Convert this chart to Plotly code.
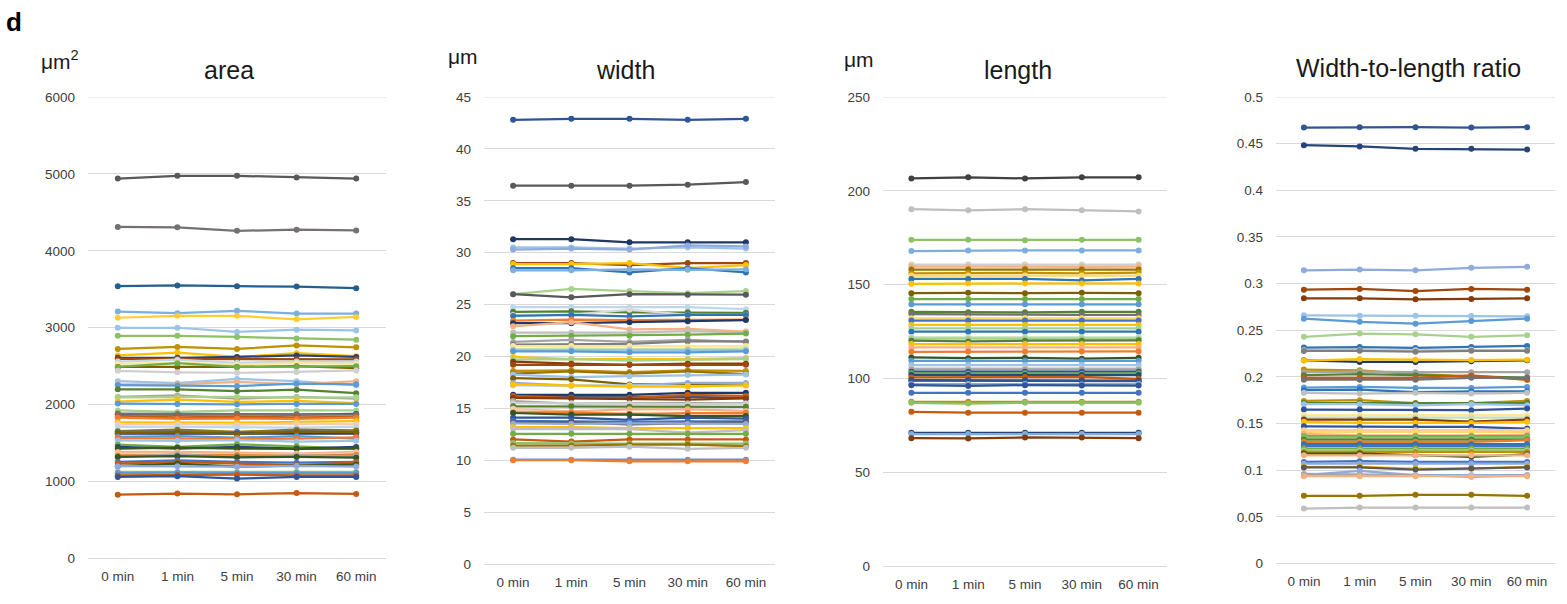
import plotly.graph_objects as go

W, H = 1567, 604
times = ["0 min", "1 min", "5 min", "30 min", "60 min"]

# ---------------- area (µm²) ----------------
area_values = [
    [4940, 4975, 4975, 4955, 4940], [4310, 4305, 4260, 4275, 4265], [3540, 3550, 3540, 3535, 3515],
    [3210, 3190, 3220, 3185, 3185], [3130, 3155, 3155, 3110, 3140], [3000, 3000, 2945, 2975, 2965],
    [2895, 2895, 2880, 2860, 2845], [2725, 2750, 2725, 2770, 2745], [2640, 2675, 2620, 2670, 2630],
    [2610, 2610, 2620, 2640, 2620], [2595, 2595, 2590, 2590, 2590], [2560, 2585, 2545, 2560, 2560],
    [2530, 2545, 2520, 2540, 2530], [2490, 2490, 2490, 2500, 2475], [2490, 2540, 2490, 2495, 2500],
    [2440, 2420, 2415, 2425, 2445], [2305, 2280, 2335, 2305, 2250], [2265, 2265, 2295, 2265, 2305],
    [2255, 2250, 2240, 2275, 2265], [2200, 2200, 2175, 2195, 2150], [2100, 2120, 2080, 2100, 2080],
    [2095, 2095, 2100, 2090, 2095], [2040, 2065, 2035, 2050, 2020], [2015, 2010, 2005, 2010, 2010],
    [1925, 1905, 1925, 1925, 1925], [1875, 1870, 1875, 1870, 1880], [1885, 1880, 1880, 1875, 1870],
    [1850, 1835, 1845, 1835, 1840], [1830, 1815, 1820, 1815, 1830], [1770, 1770, 1765, 1775, 1785],
    [1745, 1750, 1740, 1755, 1745], [1710, 1715, 1705, 1700, 1710], [1655, 1675, 1645, 1675, 1665],
    [1645, 1650, 1640, 1650, 1645], [1625, 1625, 1620, 1625, 1625], [1630, 1640, 1620, 1645, 1640],
    [1580, 1590, 1570, 1590, 1560], [1565, 1560, 1555, 1560, 1575], [1535, 1530, 1540, 1520, 1530],
    [1480, 1450, 1485, 1460, 1430], [1450, 1430, 1450, 1430, 1450], [1430, 1440, 1430, 1425, 1430],
    [1385, 1385, 1375, 1365, 1385], [1365, 1360, 1360, 1350, 1370], [1340, 1345, 1345, 1335, 1350],
    [1320, 1355, 1320, 1340, 1330], [1320, 1330, 1315, 1320, 1310], [1255, 1275, 1255, 1245, 1255],
    [1235, 1255, 1235, 1215, 1245], [1200, 1235, 1195, 1210, 1220], [1200, 1200, 1195, 1205, 1195],
    [1125, 1125, 1120, 1125, 1125], [1110, 1115, 1110, 1110, 1110], [1080, 1085, 1090, 1080, 1080],
    [1060, 1070, 1040, 1060, 1060], [830, 845, 835, 850, 840],
]
area_colors = [
    "#595959", "#767171", "#255E91", "#7CAFDD", "#FFCD33", "#9DC3E6", "#8CC168", "#BF9000",
    "#FFC000", "#264478", "#9E480E", "#BDD7EE", "#FFE699", "#7F6000", "#70AD47", "#D0CECE",
    "#9DC3E6", "#F4B183", "#5B9BD5", "#548235", "#A5A5A5", "#A9D18E", "#FFC000", "#5B9BD5",
    "#A9D18E", "#1F4E79", "#767171", "#C55A11", "#ED7D31", "#FFC000", "#F8CBAD", "#BDD7EE",
    "#997300", "#4472C4", "#1F3864", "#7F6000", "#5B9BD5", "#ED7D31", "#9DC3E6", "#70AD47",
    "#264478", "#385723", "#F4B183", "#F8CBAD", "#ED7D31", "#A5A5A5", "#375623", "#4472C4",
    "#C55A11", "#385723", "#8FAADC", "#8CC168", "#5B9BD5", "#C55A11", "#2F5597", "#C55A11",
]

# ---------------- width (µm) ----------------
width_values = [
    [42.8, 42.9, 42.9, 42.8, 42.9], [36.45, 36.45, 36.45, 36.55, 36.8], [31.3, 31.3, 31.0, 31.0, 31.0],
    [30.5, 30.5, 30.4, 30.5, 30.4], [30.3, 30.4, 30.3, 30.7, 30.6], [29.0, 29.0, 28.8, 29.0, 29.0],
    [28.9, 28.9, 29.0, 28.5, 28.8], [28.5, 28.5, 28.1, 28.5, 28.1], [28.3, 28.3, 28.4, 28.35, 28.4],
    [26.0, 26.5, 26.3, 26.1, 26.3], [26.0, 25.7, 26.0, 25.95, 25.95], [24.75, 24.75, 24.7, 24.75, 24.55],
    [24.3, 24.35, 24.25, 24.25, 24.2], [24.0, 24.0, 24.5, 24.0, 24.0], [23.9, 24.0, 23.85, 24.0, 24.0],
    [23.45, 23.55, 23.5, 23.5, 23.55], [23.2, 23.2, 23.3, 23.4, 23.5], [22.9, 23.3, 22.6, 22.65, 22.4],
    [22.3, 22.3, 22.3, 22.45, 22.3], [21.95, 22.0, 22.0, 22.1, 22.2], [21.4, 21.6, 21.4, 21.6, 21.4],
    [21.15, 21.2, 21.2, 21.45, 21.45], [21.0, 21.0, 21.0, 20.95, 21.0], [20.7, 20.75, 20.7, 20.7, 20.75],
    [20.6, 20.6, 20.6, 20.65, 20.6], [20.5, 20.5, 20.4, 20.4, 20.5], [19.95, 19.75, 19.75, 19.75, 19.85],
    [19.7, 19.75, 19.6, 19.7, 19.75], [19.5, 19.3, 19.2, 19.3, 19.3], [19.2, 19.2, 19.2, 19.2, 19.2],
    [18.6, 18.65, 18.5, 18.65, 18.6], [18.35, 18.55, 18.35, 18.55, 18.3], [18.25, 18.0, 18.1, 18.2, 18.25],
    [17.9, 17.8, 17.3, 17.3, 17.3], [17.45, 17.2, 17.2, 17.45, 17.45], [17.2, 17.15, 17.2, 17.15, 17.2],
    [17.3, 17.2, 17.1, 17.1, 17.2], [16.3, 16.3, 16.3, 16.5, 16.5], [16.1, 16.1, 16.05, 16.1, 16.0],
    [16.2, 16.0, 16.0, 16.3, 16.2], [16.0, 15.95, 15.9, 15.85, 15.95], [15.7, 15.45, 15.5, 15.5, 15.5],
    [15.5, 15.5, 15.45, 15.4, 15.45], [15.2, 15.2, 15.15, 15.15, 15.15], [14.9, 14.7, 14.9, 14.9, 14.75],
    [14.95, 14.4, 14.55, 14.4, 14.4], [14.6, 14.6, 14.45, 14.55, 14.55], [14.55, 14.4, 14.4, 14.25, 14.25],
    [14.1, 14.1, 13.9, 14.1, 14.0], [13.8, 13.75, 13.7, 13.75, 13.75], [13.65, 13.65, 13.45, 13.55, 13.65],
    [13.55, 13.5, 13.55, 13.5, 13.5], [13.2, 13.2, 13.1, 13.1, 13.1], [13.0, 13.0, 13.0, 12.65, 12.9],
    [12.55, 12.55, 12.55, 12.55, 12.55], [12.0, 11.8, 12.0, 12.0, 12.0], [11.65, 11.6, 11.6, 11.6, 11.6],
    [11.4, 11.4, 11.5, 11.5, 11.35], [11.2, 11.2, 11.3, 11.1, 11.2], [10.05, 10.05, 10.05, 10.05, 10.05],
    [10.0, 10.0, 9.9, 9.9, 9.9],
]
width_colors = [
    "#2F5597", "#595959", "#203864", "#9DC3E6", "#8FAADC", "#9E480E", "#FFC000", "#2E75B6",
    "#7CAFDD", "#A9D18E", "#595959", "#BDD7EE", "#548235", "#D9D9D9", "#2E75B6", "#ED7D31",
    "#203864", "#F4B183", "#BFBFBF", "#70AD47", "#A5A5A5", "#7F7F7F", "#FFE699", "#C5E0B4",
    "#9DC3E6", "#5B9BD5", "#FFC000", "#A9D18E", "#843C0C", "#9E480E", "#BF9000", "#997300",
    "#9DC3E6", "#7F6000", "#8FAADC", "#BDD7EE", "#FFC000", "#203864", "#2F5597", "#C55A11",
    "#843C0C", "#A5A5A5", "#D0CECE", "#548235", "#F4B183", "#F8CBAD", "#ED7D31", "#375623",
    "#2F5597", "#4472C4", "#595959", "#8FAADC", "#FFC000", "#BFBFBF", "#70AD47", "#C55A11",
    "#8CC168", "#997300", "#BFBFBF", "#698ED0", "#ED7D31",
]

# ---------------- length (µm) ----------------
length_values = [
    [206.6, 207.2, 206.6, 207.2, 207.2], [190.2, 189.6, 190.2, 189.6, 189.0], [173.9, 173.9, 173.6, 173.9, 173.9],
    [167.9, 168.2, 168.2, 168.2, 168.2], [160.7, 160.7, 160.7, 160.7, 160.7], [159.6, 159.5, 159.4, 159.5, 159.6],
    [158.0, 158.0, 158.2, 158.0, 158.0], [156.0, 156.2, 156.2, 156.0, 156.4], [154.8, 154.8, 154.8, 154.8, 154.8],
    [153.0, 153.0, 153.0, 152.2, 153.0], [150.4, 150.6, 150.6, 150.6, 150.6], [145.4, 145.6, 145.4, 145.6, 145.4],
    [142.3, 142.3, 142.3, 142.3, 142.3], [139.5, 139.5, 139.5, 139.5, 139.5], [135.5, 135.2, 135.2, 135.5, 135.5],
    [134.3, 134.0, 134.0, 133.8, 133.8], [132.0, 132.0, 132.2, 132.0, 132.0], [130.8, 130.8, 130.8, 130.8, 130.8],
    [128.5, 128.5, 128.5, 128.5, 128.5], [126.7, 126.7, 126.7, 126.7, 126.7], [124.9, 124.9, 124.9, 124.9, 124.9],
    [121.9, 121.9, 121.9, 121.9, 121.9], [121.2, 121.2, 121.2, 121.2, 121.2], [120.1, 119.7, 120.1, 120.1, 120.3],
    [118.3, 118.3, 118.3, 118.3, 118.3], [116.5, 116.5, 116.5, 116.5, 116.5], [114.2, 114.3, 114.2, 114.4, 114.4],
    [111.2, 110.8, 111.0, 110.5, 111.0], [109.4, 109.4, 109.4, 109.4, 109.4], [107.1, 107.1, 107.1, 107.1, 107.1],
    [105.3, 105.3, 105.3, 105.3, 105.3], [104.8, 104.8, 104.8, 104.8, 104.8], [103.6, 103.6, 103.6, 103.6, 103.6],
    [102.7, 102.5, 102.7, 102.5, 102.7], [101.8, 101.8, 101.8, 101.8, 101.8], [100.5, 100.5, 100.8, 100.8, 99.8],
    [99.1, 99.0, 99.0, 99.0, 98.8], [98.8, 98.8, 98.8, 98.5, 98.5], [97.0, 97.0, 97.0, 96.8, 97.0],
    [96.4, 96.0, 96.4, 96.2, 96.2], [92.3, 92.3, 92.3, 92.3, 92.3], [87.5, 87.5, 87.5, 87.5, 87.5],
    [87.0, 86.6, 87.0, 87.0, 87.0], [82.2, 81.7, 81.7, 81.7, 81.7], [71.0, 71.0, 71.0, 71.0, 71.0],
    [70.3, 70.3, 70.3, 70.3, 70.3], [68.1, 68.0, 68.5, 68.5, 68.1],
]
length_colors = [
    "#404040", "#BFBFBF", "#8CC168", "#7CAFDD", "#D0CECE", "#F4B183", "#997300", "#BF9000",
    "#FFD966", "#2E75B6", "#FFC000", "#7F6000", "#70AD47", "#5B9BD5", "#548235", "#767171",
    "#FFD966", "#4472C4", "#FFC000", "#A9D18E", "#2E75B6", "#C5E0B4", "#A9D18E", "#548235",
    "#FFC000", "#F4B183", "#ED7D31", "#375623", "#5B9BD5", "#9DC3E6", "#D0CECE", "#A5A5A5",
    "#2F5597", "#70AD47", "#1F4E79", "#C55A11", "#843C0C", "#2F5597", "#8FAADC", "#2F5597",
    "#4472C4", "#BF9000", "#8CC168", "#C55A11", "#264478", "#7CAFDD", "#843C0C",
]

# ---------------- width-to-length ratio ----------------
ratio_values = [
    [0.4673, 0.4677, 0.4677, 0.4673, 0.4677], [0.4484, 0.447, 0.4444, 0.4444, 0.4437],
    [0.3143, 0.315, 0.3143, 0.3169, 0.318], [0.2935, 0.2943, 0.292, 0.2943, 0.2935],
    [0.2842, 0.2842, 0.2832, 0.2835, 0.2842], [0.266, 0.2655, 0.2655, 0.2652, 0.2649],
    [0.2624, 0.259, 0.257, 0.26, 0.2624], [0.243, 0.2464, 0.2457, 0.243, 0.2446],
    [0.2314, 0.232, 0.231, 0.232, 0.2332], [0.2286, 0.2286, 0.2286, 0.229, 0.2286],
    [0.2278, 0.228, 0.227, 0.228, 0.228], [0.2178, 0.216, 0.216, 0.2168, 0.2178],
    [0.2175, 0.219, 0.2185, 0.218, 0.2185], [0.2079, 0.2071, 0.203, 0.2007, 0.197],
    [0.205, 0.2057, 0.205, 0.205, 0.205], [0.2018, 0.203, 0.2018, 0.2007, 0.1993],
    [0.199, 0.199, 0.199, 0.2015, 0.197], [0.197, 0.197, 0.197, 0.199, 0.199],
    [0.1886, 0.1893, 0.1882, 0.1882, 0.1893], [0.1857, 0.1864, 0.1836, 0.1846, 0.1846],
    [0.183, 0.1822, 0.183, 0.1822, 0.183], [0.1743, 0.175, 0.172, 0.172, 0.1743],
    [0.172, 0.172, 0.1715, 0.1715, 0.172], [0.1707, 0.1707, 0.1696, 0.1707, 0.1696],
    [0.165, 0.165, 0.1643, 0.1643, 0.166], [0.159, 0.159, 0.159, 0.159, 0.159],
    [0.1564, 0.1564, 0.157, 0.1564, 0.1564], [0.1543, 0.1543, 0.1543, 0.152, 0.1543],
    [0.1518, 0.1507, 0.1507, 0.1507, 0.1518], [0.147, 0.1464, 0.1464, 0.1464, 0.1446],
    [0.1429, 0.1429, 0.1429, 0.1429, 0.1429], [0.141, 0.141, 0.141, 0.141, 0.141],
    [0.139, 0.1373, 0.1373, 0.1373, 0.1382], [0.1364, 0.1364, 0.1364, 0.1364, 0.1364],
    [0.135, 0.135, 0.135, 0.135, 0.135], [0.1329, 0.1329, 0.1329, 0.1329, 0.1329],
    [0.1304, 0.1304, 0.1304, 0.1304, 0.1321], [0.1279, 0.1279, 0.1279, 0.1279, 0.1279],
    [0.1257, 0.1257, 0.1257, 0.1257, 0.1257], [0.1232, 0.1232, 0.1232, 0.1232, 0.1232],
    [0.121, 0.121, 0.121, 0.121, 0.121], [0.1196, 0.1196, 0.1196, 0.1196, 0.1196],
    [0.1179, 0.1179, 0.1161, 0.1143, 0.1171], [0.116, 0.116, 0.116, 0.116, 0.116],
    [0.1089, 0.1096, 0.1089, 0.1089, 0.1089], [0.107, 0.107, 0.107, 0.107, 0.107],
    [0.1036, 0.1036, 0.1018, 0.1018, 0.1036], [0.103, 0.103, 0.1007, 0.1018, 0.103],
    [0.0946, 0.0993, 0.0946, 0.0946, 0.0946], [0.096, 0.0954, 0.0946, 0.0929, 0.0946],
    [0.0936, 0.0936, 0.0936, 0.0936, 0.0936], [0.0725, 0.0725, 0.0736, 0.0736, 0.0725],
    [0.0589, 0.06, 0.06, 0.06, 0.06],
]
ratio_colors = [
    "#2F5597", "#264478", "#8FAADC", "#9E480E", "#843C0C", "#9DC3E6", "#5B9BD5", "#A9D18E",
    "#2E75B6", "#D0CECE", "#7F7F7F", "#203864", "#FFC000", "#BF9000", "#A5A5A5", "#548235",
    "#C55A11", "#767171", "#5B9BD5", "#2E75B6", "#BFBFBF", "#BF9000", "#548235", "#9DC3E6",
    "#2F5597", "#FFE699", "#C5E0B4", "#843C0C", "#FFC000", "#2F5597", "#F8CBAD", "#FFD966",
    "#F4B183", "#70AD47", "#8CC168", "#548235", "#ED7D31", "#2E75B6", "#4472C4", "#70AD47",
    "#A9D18E", "#BF9000", "#375623", "#F4B183", "#4472C4", "#8FAADC", "#FFC000", "#595959",
    "#8FAADC", "#A5A5A5", "#F4B183", "#997300", "#BFBFBF",
]

# ---------------- layout helpers (pixel -> paper) ----------------
def fx(x):
    return x / W

def fy(y):
    return 1 - y / H

panels = [
    dict(vals=area_values, cols=area_colors, x0=88, x1=386, ytop=97, ybot=558.5,
         ymax=6000, dtick=1000, fmt="d", title="area", tx=229, ty=70,
         unit="μm<sup>2</sup>", ux=39, uy=60),
    dict(vals=width_values, cols=width_colors, x0=484, x1=775, ytop=97, ybot=564,
         ymax=45, dtick=5, fmt="", title="width", tx=625, ty=70,
         unit="μm", ux=446, uy=56),
    dict(vals=length_values, cols=length_colors, x0=883, x1=1167, ytop=97, ybot=566,
         ymax=250, dtick=50, fmt="", title="length", tx=1018, ty=70,
         unit="μm", ux=842, uy=60),
    dict(vals=ratio_values, cols=ratio_colors, x0=1276, x1=1555, ytop=97, ybot=563.5,
         ymax=0.5, dtick=0.05, fmt="", title="Width-to-length ratio", tx=1408, ty=68,
         unit="", ux=0, uy=0),
]

FONT = "Liberation Sans, Arial, sans-serif"
fig = go.Figure()
annotations = []
layout = {}

for i, p in enumerate(panels):
    n = "" if i == 0 else str(i + 1)
    xa, ya = "x" + n, "y" + n
    for vals, col in zip(p["vals"], p["cols"]):
        fig.add_trace(go.Scatter(
            x=times, y=vals, xaxis=xa, yaxis=ya, mode="lines+markers",
            line=dict(color=col, width=2.25), marker=dict(color=col, size=6),
            showlegend=False, hoverinfo="skip", cliponaxis=False))
    layout["xaxis" + n] = dict(
        domain=[fx(p["x0"]), fx(p["x1"])], anchor=ya, type="category",
        categoryorder="array", categoryarray=times, range=[-0.5, 4.5],
        showgrid=False, showline=False, zeroline=False, ticks="", automargin=False,
        tickfont=dict(family=FONT, size=13.5, color="#404040"), ticklabelstandoff=8,
        fixedrange=True)
    ya_d = dict(
        domain=[fy(p["ybot"]), fy(p["ytop"])], anchor=xa, range=[0, p["ymax"]],
        dtick=p["dtick"], tick0=0, showgrid=True, gridcolor="#D9D9D9", gridwidth=1,
        zeroline=True, zerolinecolor="#D9D9D9", zerolinewidth=1, showline=False,
        ticks="", automargin=False, tickfont=dict(family=FONT, size=13.5, color="#404040"),
        ticklabelstandoff=12, fixedrange=True)
    if p["fmt"]:
        ya_d["tickformat"] = p["fmt"]
    layout["yaxis" + n] = ya_d
    annotations.append(dict(
        text=p["title"], x=fx(p["tx"]), y=fy(p["ty"]), xref="paper", yref="paper",
        xanchor="center", yanchor="middle", showarrow=False,
        font=dict(family=FONT, size=25, color="#1a1a1a")))
    if p["unit"]:
        annotations.append(dict(
            text=p["unit"], x=fx(p["ux"]), y=fy(p["uy"]), xref="paper", yref="paper",
            xanchor="left", yanchor="middle", showarrow=False,
            font=dict(family=FONT, size=21, color="#1a1a1a")))

annotations.append(dict(
    text="<b>d</b>", x=fx(4), y=fy(22), xref="paper", yref="paper",
    xanchor="left", yanchor="middle", showarrow=False,
    font=dict(family=FONT, size=26, color="#000000")))

# top gridline at the range maximum, drawn explicitly as axis-referenced shapes
shapes = []
for i, p in enumerate(panels):
    n = "" if i == 0 else str(i + 1)
    shapes.append(dict(type="line", xref="x" + n + " domain", yref="y" + n,
                       x0=0, x1=1, y0=p["ymax"], y1=p["ymax"],
                       line=dict(color="#D9D9D9", width=1), layer="below"))

fig.update_layout(
    template="none",
    width=W, height=H, autosize=False,
    margin=dict(l=0, r=0, t=0, b=0, pad=0, autoexpand=False),
    paper_bgcolor="white", plot_bgcolor="white",
    font=dict(family=FONT, color="#404040"),
    annotations=annotations, shapes=shapes, **layout)

fig.write_html(
    "out.html",
    config={"displayModeBar": False, "staticPlot": True},
    post_script=(
        "document.documentElement.style.margin='0';"
        "document.documentElement.style.overflow='hidden';"
        "document.body.style.margin='0';"
        "document.body.style.overflow='hidden';"
        "var gd=document.getElementById('{plot_id}');"
        "gd.style.position='fixed';gd.style.left='0px';gd.style.top='0px';"
    ),
)
